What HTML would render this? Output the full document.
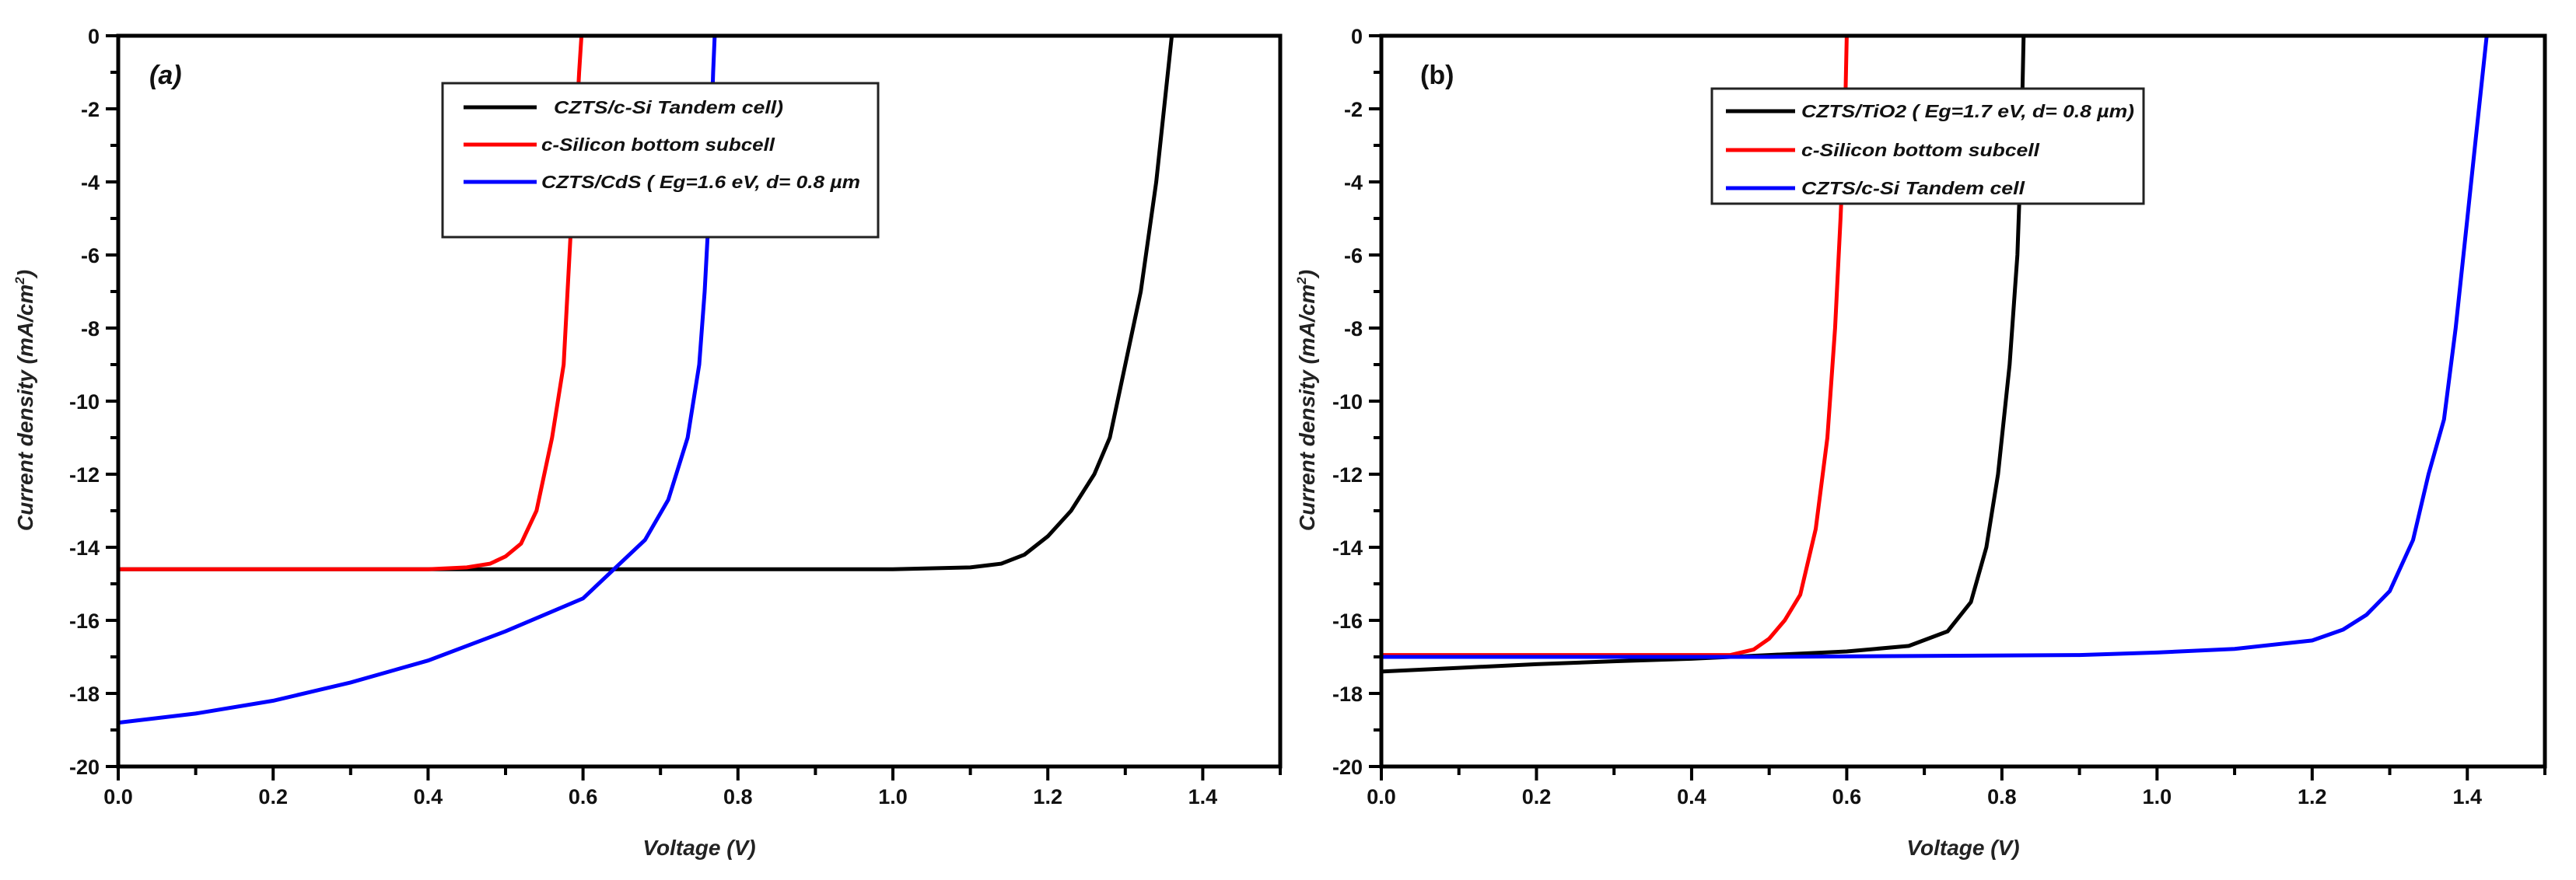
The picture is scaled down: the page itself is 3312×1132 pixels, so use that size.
<!DOCTYPE html>
<html><head><meta charset="utf-8"><style>
html,body{margin:0;padding:0;background:#fff;}
svg{display:block;font-family:"Liberation Sans",Arial,sans-serif;}
</style></head><body>
<svg id="fig" width="3312" height="1132" viewBox="0 0 3312 1132" xmlns="http://www.w3.org/2000/svg"></svg>
<script>
// ---- data panel (a) ----
const aTandemV = [0,0.2,0.4,0.6,0.8,1.0,1.1,1.14,1.17,1.2,1.23,1.26,1.28,1.3,1.32,1.34,1.35,1.36];
const aTandemJ = [-14.6,-14.6,-14.6,-14.6,-14.6,-14.6,-14.55,-14.45,-14.2,-13.7,-13,-12,-11,-9,-7,-4,-2,0];
const aSiV = [0,0.2,0.4,0.45,0.48,0.5,0.52,0.54,0.56,0.575,0.58,0.585,0.59,0.595,0.598];
const aSiJ = [-14.6,-14.6,-14.6,-14.55,-14.45,-14.25,-13.9,-13,-11,-9,-7,-5,-3,-1,0];
const aCdsV = [0,0.1,0.2,0.3,0.4,0.5,0.6,0.64,0.68,0.71,0.735,0.75,0.757,0.762,0.765,0.768,0.77];
const aCdsJ = [-18.8,-18.55,-18.2,-17.7,-17.1,-16.3,-15.4,-14.6,-13.8,-12.7,-11,-9,-7,-5,-3,-1,0];
// ---- data panel (b) ----
const bTioV = [0,0.1,0.2,0.3,0.4,0.5,0.6,0.68,0.73,0.76,0.78,0.795,0.81,0.82,0.825,0.828];
const bTioJ = [-17.4,-17.3,-17.2,-17.12,-17.05,-16.95,-16.85,-16.7,-16.3,-15.5,-14,-12,-9,-6,-3,0];
const bSiV = [0,0.2,0.45,0.48,0.5,0.52,0.54,0.56,0.575,0.585,0.592,0.598,0.6];
const bSiJ = [-16.95,-16.95,-16.95,-16.8,-16.5,-16,-15.3,-13.5,-11,-8,-5,-2,0];
const bTanV = [0,0.5,0.9,1.0,1.1,1.2,1.24,1.27,1.3,1.33,1.35,1.37,1.385,1.4,1.41,1.42,1.425];
const bTanJ = [-17,-17,-16.95,-16.88,-16.78,-16.55,-16.25,-15.85,-15.2,-13.8,-12,-10.5,-8,-5,-3,-1,0];
const xTicks = [0,0.2,0.4,0.6,0.8,1.0,1.2,1.4];
const yTicks = [0,-2,-4,-6,-8,-10,-12,-14,-16,-18,-20];

const NS="http://www.w3.org/2000/svg";
const svg=document.getElementById('fig');
function mk(tag,attrs,parent){const e=document.createElementNS(NS,tag);for(const k in attrs)e.setAttribute(k,attrs[k]);(parent||svg).appendChild(e);return e;}

function panel(p){
  const g=mk('g',{});
  
  
  const X=v=>p.x0+(v-0)/(1.5)*(p.x1-p.x0);
  const Y=j=>p.y0+(0-j)/20*(p.y1-p.y0);
  const cid='clip'+p.id;
  const cp=mk('clipPath',{id:cid},g);mk('rect',{x:p.x0,y:p.y0,width:p.x1-p.x0,height:p.y1-p.y0},cp);
  p.series.forEach(s=>{
    const d=s.v.map((v,i)=>(i?'L':'M')+X(v).toFixed(1)+','+Y(s.j[i]).toFixed(1)).join('');
    const path=mk('path',{d:d,fill:'none',stroke:s.color,'stroke-width':5,'clip-path':'url(#'+cid+')'},g);
    
    
  });
  // frame
  const fr=mk('rect',{x:p.x0,y:p.y0,width:p.x1-p.x0,height:p.y1-p.y0,fill:'none',stroke:'#000','stroke-width':5},g);
  
  
  // x ticks
  for(let k=0;k<=15;k++){
    const v=k*0.1,xx=X(v),maj=k%2===0;
    mk('line',{x1:xx,x2:xx,y1:p.y1,y2:p.y1+(maj?18:11),stroke:'#000','stroke-width':4},g);
  }
  xTicks.forEach(v=>{
    const t=mk('text',{x:X(v),y:p.y1+48,'text-anchor':'middle','font-size':27,'font-weight':'bold',fill:'#111'},g);
    t.textContent=v.toFixed(1);
    
    
  });
  for(let k=0;k<=20;k++){
    const yy=Y(-k),maj=k%2===0;
    mk('line',{x1:p.x0,x2:p.x0-(maj?16:10),y1:yy,y2:yy,stroke:'#000','stroke-width':4},g);
  }
  yTicks.forEach(j=>{
    const t=mk('text',{x:p.x0-24,y:Y(j)+10,'text-anchor':'end','font-size':27,'font-weight':'bold',fill:'#111'},g);
    t.textContent=String(j);
    
    
  });
  const xt=mk('text',{x:(p.x0+p.x1)/2,y:1100,'text-anchor':'middle','font-size':28,'font-weight':'bold','font-style':'italic',fill:'#222'},g);
  xt.textContent='Voltage (V)';
  
  
  const yt=mk('text',{x:0,y:0,'text-anchor':'middle','font-size':28,'font-weight':'bold','font-style':'italic',fill:'#222',transform:'translate('+p.ylx+',515) rotate(-90)'},g);
  yt.innerHTML='Current density (mA/cm<tspan font-size="17" dy="-11">2</tspan><tspan dy="11">)</tspan>';
  
  
  const lab=mk('text',{x:p.labx,y:108,'font-size':34,'font-weight':'bold','font-style':p.labItalic?'italic':'normal',fill:'#111'},g);
  lab.textContent=p.label;
  
  
  // legend
  const L=p.legend;
  const lg=mk('g',{},g);
  
  
  mk('rect',{x:L.x,y:L.y,width:L.w,height:L.h,fill:'#fff',stroke:'#222','stroke-width':3},lg);
  L.items.forEach((it,i)=>{
    const yy=L.ys[i];
    const ln=mk('line',{x1:L.lx1,x2:L.lx2,y1:yy,y2:yy,stroke:it.c,'stroke-width':5},lg);
    
    
    const t=mk('text',{x:it.tx||L.tx,y:yy+8,'font-size':23,'font-weight':'bold','font-style':'italic',fill:'#111',textLength:it.tl,lengthAdjust:'spacingAndGlyphs'},lg);
    t.textContent=it.t;
    
    
  });
}

panel({id:'a',name:'panel-a',x0:152,x1:1646,y0:46,y1:986,ylx:42,labx:192,label:'(a)',labItalic:true,
  series:[{key:'tandem-a',v:aTandemV,j:aTandemJ,color:'#000'},{key:'silicon-a',v:aSiV,j:aSiJ,color:'#ff0000'},{key:'cds-a',v:aCdsV,j:aCdsJ,color:'#0000ff'}],
  legend:{x:569,y:107,w:560,h:198,lx1:596,lx2:690,tx:696,ys:[138,186,234],
    items:[{t:'CZTS/c-Si Tandem cell)',c:'#000',tx:712,tl:295},{t:'c-Silicon bottom subcell',c:'#ff0000',tl:300},{t:'CZTS/CdS ( Eg=1.6 eV, d= 0.8 µm',c:'#0000ff',tl:410}]}});
panel({id:'b',name:'panel-b',x0:1776,x1:3272,y0:46,y1:986,ylx:1690,labx:1826,label:'(b)',labItalic:false,
  series:[{key:'tio2-b',v:bTioV,j:bTioJ,color:'#000'},{key:'silicon-b',v:bSiV,j:bSiJ,color:'#ff0000'},{key:'tandem-b',v:bTanV,j:bTanJ,color:'#0000ff'}],
  legend:{x:2201,y:114,w:555,h:148,lx1:2219,lx2:2308,tx:2316,ys:[143,193,242],
    items:[{t:'CZTS/TiO2 ( Eg=1.7 eV, d= 0.8 µm)',c:'#000',tl:428},{t:'c-Silicon bottom subcell',c:'#ff0000',tl:306},{t:'CZTS/c-Si Tandem cell',c:'#0000ff',tl:287}]}});
</script>
</body></html>
